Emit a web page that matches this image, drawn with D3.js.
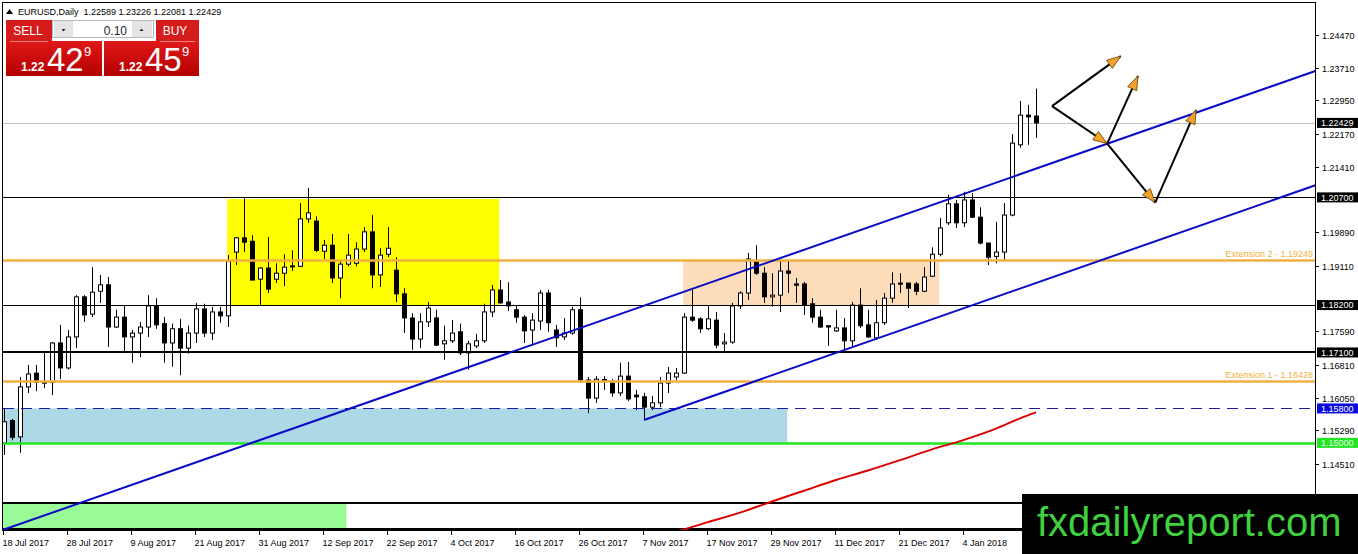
<!DOCTYPE html>
<html>
<head>
<meta charset="utf-8">
<script src="https://cdn.jsdelivr.net/npm/d3@7"></script>
<style>
body { margin: 0; background: #fff; overflow: hidden; }
svg { display: block; font-family: "Liberation Sans", Arial, sans-serif; }
</style>
</head>
<body>
<svg id="chart" width="1358" height="554"></svg>
<script>
// EURUSD daily candles, bar 0 = 18 Jul 2017
const opens = [1.1500,1.1552,1.1514,1.1630,1.1662,1.1639,1.1641,1.1732,1.1674,1.1746,
  1.1839,1.1799,1.1852,1.1867,1.1769,1.1792,1.1746,1.1755,1.1769,1.1818,
  1.1777,1.1732,1.1765,1.1720,1.1755,1.1811,1.1755,1.1804,1.1795,1.1943,
  1.1976,1.1968,1.1880,1.1906,1.1880,1.1894,1.1910,1.1910,1.2020,1.2015,
  1.1945,1.1959,1.1883,1.1915,1.1917,1.1950,1.1990,1.1890,1.1938,1.1901,
  1.1846,1.1790,1.1741,1.1781,1.1790,1.1730,1.1737,1.1758,1.1709,1.1725,
  1.1737,1.1804,1.1855,1.1827,1.1809,1.1792,1.1762,1.1783,1.1848,1.1762,
  1.1746,1.1755,1.1809,1.1646,1.1604,1.1647,1.1639,1.1616,1.1655,1.1611,
  1.1607,1.1583,1.1593,1.1639,1.1653,1.1662,1.1792,1.1788,1.1765,1.1785,
  1.1730,1.1734,1.1818,1.1848,1.1920,1.1894,1.1839,1.1843,1.1899,1.1869,
  1.1869,1.1823,1.1792,1.1772,1.1760,1.1767,1.1737,1.1820,1.1774,1.1744,
  1.1779,1.1836,1.1871,1.1871,1.1869,1.1852,1.1887,1.1938,1.2011,1.2055,
  1.2011,1.2064,1.2024,1.1964,1.1933,1.1943,1.2029,1.2192,1.2261,1.22589];
const highs = [1.1581,1.1556,1.1653,1.1681,1.1681,1.1709,1.1734,1.1774,1.1762,1.1843,
  1.1843,1.1908,1.1890,1.1885,1.1809,1.1820,1.1762,1.1781,1.1843,1.1836,
  1.1792,1.1777,1.1788,1.1772,1.1825,1.1823,1.1816,1.1816,1.1936,1.1978,
  1.2070,1.1982,1.1908,1.1978,1.1917,1.1938,1.1947,1.2057,1.2092,1.2026,
  1.1971,1.1985,1.1924,1.1985,1.1966,1.2001,1.2029,1.1952,1.2001,1.1931,
  1.1859,1.1801,1.1801,1.1827,1.1809,1.1772,1.1785,1.1777,1.1737,1.1753,
  1.1823,1.1867,1.1878,1.1873,1.1818,1.1797,1.1801,1.1855,1.1855,1.1774,
  1.1790,1.1816,1.1838,1.1653,1.1655,1.1655,1.1648,1.1686,1.1688,1.1623,
  1.1616,1.1609,1.1653,1.1676,1.1674,1.1801,1.1855,1.1792,1.1818,1.1804,
  1.1755,1.1825,1.1852,1.1941,1.1959,1.1908,1.1894,1.1924,1.1924,1.1883,
  1.1874,1.1836,1.1809,1.1774,1.1809,1.1790,1.1827,1.1859,1.1809,1.1832,
  1.1848,1.1896,1.1894,1.1871,1.1874,1.1908,1.1954,1.2022,1.2076,1.2064,
  1.2083,1.2080,1.2047,1.1964,1.2013,1.2057,1.2217,1.2294,1.2285,1.23226];
const lows = [1.1472,1.1506,1.1477,1.1616,1.1620,1.1627,1.1611,1.1648,1.1670,1.1720,
  1.1781,1.1792,1.1825,1.1723,1.1767,1.1709,1.1686,1.1699,1.1746,1.1765,
  1.1686,1.1677,1.1657,1.1707,1.1732,1.1746,1.1739,1.1779,1.1769,1.1913,
  1.1943,1.1878,1.1820,1.1848,1.1871,1.1864,1.1899,1.1908,1.2011,1.1943,
  1.1927,1.1871,1.1836,1.1910,1.1910,1.1943,1.1859,1.1862,1.1931,1.1827,
  1.1755,1.1716,1.1720,1.1769,1.1725,1.1693,1.1732,1.1704,1.1670,1.1720,
  1.1732,1.1792,1.1823,1.1806,1.1779,1.1732,1.1730,1.1762,1.1758,1.1723,
  1.1739,1.1751,1.1639,1.1569,1.1593,1.1623,1.1607,1.1609,1.1597,1.1576,
  1.1553,1.1576,1.1583,1.1616,1.1646,1.1660,1.1781,1.1755,1.1762,1.1720,
  1.1711,1.1730,1.1811,1.1832,1.1890,1.1825,1.1816,1.1804,1.1848,1.1825,
  1.1797,1.1779,1.1767,1.1725,1.1758,1.1716,1.1723,1.1767,1.1744,1.1739,
  1.1774,1.1825,1.1848,1.1813,1.1843,1.1850,1.1885,1.1933,1.2006,1.1999,
  1.2001,1.2022,1.1961,1.1913,1.1917,1.1924,1.2026,1.2185,1.2192,1.22081];
const closes = [1.1549,1.1513,1.1630,1.1660,1.1641,1.1641,1.1732,1.1674,1.1746,1.1839,
  1.1797,1.1850,1.1867,1.1769,1.1792,1.1746,1.1755,1.1769,1.1818,1.1774,
  1.1732,1.1765,1.1720,1.1755,1.1811,1.1755,1.1804,1.1795,1.1922,1.1976,
  1.1966,1.1878,1.1906,1.1857,1.1894,1.1908,1.1911,1.2020,1.2034,1.1947,
  1.1959,1.1883,1.1915,1.1936,1.1950,1.1990,1.1890,1.1936,1.1952,1.1846,
  1.1790,1.1741,1.1781,1.1813,1.1727,1.1737,1.1755,1.1709,1.1730,1.1737,
  1.1804,1.1855,1.1825,1.1818,1.1792,1.1760,1.1785,1.1848,1.1779,1.1744,
  1.1755,1.1809,1.1646,1.1604,1.1648,1.1645,1.1616,1.1655,1.1602,1.1607,
  1.1583,1.1593,1.1639,1.1662,1.1662,1.1792,1.1785,1.1765,1.1788,1.1727,
  1.1734,1.1818,1.1848,1.1927,1.1894,1.1839,1.1843,1.1899,1.1894,1.1866,
  1.1820,1.1792,1.1769,1.1769,1.1767,1.1737,1.1820,1.1772,1.1746,1.1779,
  1.1836,1.1869,1.1869,1.1859,1.1852,1.1885,1.1938,1.1999,1.2055,1.2011,
  1.2064,1.2024,1.1964,1.1931,1.1943,1.2029,1.2196,1.2261,1.2257,1.22429];

// time axis labels, one every 8 bars
const dateLabels = ["18 Jul 2017","28 Jul 2017","9 Aug 2017","21 Aug 2017","31 Aug 2017",
  "12 Sep 2017","22 Sep 2017","4 Oct 2017","16 Oct 2017","26 Oct 2017","7 Nov 2017",
  "17 Nov 2017","29 Nov 2017","11 Dec 2017","21 Dec 2017","4 Jan 2018"];
// visible price scale labels (the rest sit under price boxes / watermark)
const priceTicks = [1.24470,1.23710,1.22950,1.22170,1.21410,1.19890,1.19110,
  1.17590,1.16810,1.16050,1.15290,1.14510];

// horizontal levels
const thinLevels = [1.2070, 1.1820];
const thickLevels = [1.1710, 1.1360, 1.1300];
const dashedLevel = 1.1580;
const greenLevel = 1.1500;
const extLevels = [1.16428, 1.19249];
const extLabels = ["Extension 1 - 1.16428", "Extension 2 - 1.19249"];
const bidPrice = 1.22429;

// zones: [bar from, bar to, price top, price bottom]
const yellowZone = [27.9, 61.9, 1.2066, 1.1818];
const peachZone = [84.9, 116.9, 1.19249, 1.1820];
const blueZone = [-2, 97.9, 1.1580, 1.1500];
const greenZone = [-2, 42.8, 1.1360, 1.1300];

// channel: upper line two anchors, lower line parallel from bar 80 low
const upperA = [-0.125, 1.1298], upperB = [164, 1.2364];
const lowerStart = [80, 1.1553];

// moving average (red)
const maBars = [82, 84, 88, 92, 96, 100, 104, 108, 112, 116, 120, 124, 127, 129];
const maValues = [1.1284,1.1294,1.1316,1.1338,1.1364,1.1389,1.1414,1.1436,1.1460,1.1485,1.1507,1.1533,1.1557,1.1571];

// projected path arrows [from, to] in (bar, price)
const arrows = [
  [[131, 1.2282], [139.6, 1.2398]],
  [[131, 1.2282], [137.9, 1.2195]],
  [[137.9, 1.2195], [141.75, 1.2352]],
  [[137.9, 1.2195], [143.9, 1.2058]],
  [[143.9, 1.2058], [149, 1.2273]]
];

const headerText = "EURUSD,Daily  1.22589 1.23226 1.22081 1.22429";

// layout
const frame = { left: 3, right: 1315, top: 3, bottom: 530 };
const x = d3.scaleLinear().domain([0, 129]).range([4, 1036]);
const y = d3.scaleLinear().domain([1.2447, 1.1451]).range([35, 464]);

const svg = d3.select('#chart');
const defs = svg.append('defs');
defs.append('clipPath').attr('id', 'plot')
  .append('rect')
  .attr('x', frame.left).attr('y', frame.top)
  .attr('width', frame.right - frame.left).attr('height', frame.bottom - frame.top);

defs.append('marker')
  .attr('id', 'head')
  .attr('markerUnits', 'userSpaceOnUse')
  .attr('markerWidth', 18).attr('markerHeight', 14)
  .attr('refX', 15).attr('refY', 6)
  .attr('orient', 'auto')
  .append('path')
  .attr('d', 'M1,1 L15,6 L1,11 Z')
  .attr('fill', '#f5a22a')
  .attr('stroke', '#6a4a10')
  .attr('stroke-width', 0.8);

const grad = defs.append('linearGradient').attr('id', 'redGrad')
  .attr('x1', 0).attr('y1', 0).attr('x2', 0).attr('y2', 1);
grad.append('stop').attr('offset', 0).attr('stop-color', '#e01818');
grad.append('stop').attr('offset', 1).attr('stop-color', '#b40000');

svg.append('rect').attr('width', 1358).attr('height', 554).attr('fill', '#fff');

const plot = svg.append('g').attr('clip-path', 'url(#plot)');

// zones
function zone(z, color) {
  plot.append('rect')
    .attr('x', x(z[0])).attr('y', y(z[2]))
    .attr('width', x(z[1]) - x(z[0]))
    .attr('height', y(z[3]) - y(z[2]))
    .attr('fill', color);
}
zone(yellowZone, '#ffff00');
zone(peachZone, '#fddcb9');
zone(blueZone, '#add8e6');
zone(greenZone, '#98fb98');

function hline(p, color, w, dash) {
  const yy = Math.round(y(p)) + (w % 2 ? 0.5 : 0);
  const l = plot.append('line')
    .attr('x1', frame.left).attr('x2', frame.right)
    .attr('y1', yy).attr('y2', yy)
    .attr('stroke', color).attr('stroke-width', w);
  if (dash) l.attr('stroke-dasharray', dash);
}

hline(bidPrice, '#c0c0c0', 1);

// candles
const bars = d3.range(opens.length);
const candles = plot.append('g');
candles.selectAll('line.wick')
  .data(bars).enter().append('line')
  .attr('class', 'wick')
  .attr('x1', i => Math.round(x(i)) + 0.5).attr('x2', i => Math.round(x(i)) + 0.5)
  .attr('y1', i => y(highs[i])).attr('y2', i => y(lows[i]))
  .attr('stroke', '#000').attr('stroke-width', 1);
candles.selectAll('rect.body')
  .data(bars).enter().append('rect')
  .attr('class', 'body')
  .attr('x', i => Math.round(x(i)) - 1.5)
  .attr('width', 4)
  .attr('y', i => y(Math.max(opens[i], closes[i])))
  .attr('height', i => Math.max(1, Math.abs(y(opens[i]) - y(closes[i]))))
  .attr('fill', i => closes[i] >= opens[i] ? '#fff' : '#000')
  .attr('stroke', '#000').attr('stroke-width', 1);

// levels
thinLevels.forEach(p => hline(p, '#000', 1));
thickLevels.forEach(p => hline(p, '#000', 2));
hline(dashedLevel, '#1c1c9c', 1, '11,7');
hline(greenLevel, '#22e622', 2.5);
extLevels.forEach((p, k) => {
  hline(p, '#f0b040', 2.5);
  plot.append('text')
    .attr('x', frame.right - 2).attr('y', y(p) - 3)
    .attr('text-anchor', 'end')
    .attr('font-size', 9)
    .attr('fill', '#f0b040')
    .text(extLabels[k]);
});

// channel lines
const slope = (upperB[1] - upperA[1]) / (upperB[0] - upperA[0]);
const endBar = 170;
plot.append('line')
  .attr('x1', x(upperA[0])).attr('y1', y(upperA[1]))
  .attr('x2', x(endBar)).attr('y2', y(upperA[1] + slope * (endBar - upperA[0])))
  .attr('stroke', '#0a0ac8').attr('stroke-width', 2);
plot.append('line')
  .attr('x1', x(lowerStart[0])).attr('y1', y(lowerStart[1]))
  .attr('x2', x(endBar)).attr('y2', y(lowerStart[1] + slope * (endBar - lowerStart[0])))
  .attr('stroke', '#0a0ac8').attr('stroke-width', 2);

// moving average
plot.append('path')
  .datum(maBars)
  .attr('d', d3.line().x(b => x(b)).y((b, k) => y(maValues[k])).curve(d3.curveMonotoneX))
  .attr('fill', 'none').attr('stroke', '#dd0000').attr('stroke-width', 2);

// arrows
plot.selectAll('line.arrow')
  .data(arrows).enter().append('line')
  .attr('class', 'arrow')
  .attr('x1', a => x(a[0][0])).attr('y1', a => y(a[0][1]))
  .attr('x2', a => x(a[1][0])).attr('y2', a => y(a[1][1]))
  .attr('stroke', '#000').attr('stroke-width', 2)
  .attr('marker-end', 'url(#head)');

// frame
svg.append('rect')
  .attr('x', frame.left - 0.5).attr('y', frame.top - 0.5)
  .attr('width', frame.right - frame.left + 1).attr('height', frame.bottom - frame.top + 1)
  .attr('fill', 'none').attr('stroke', '#000').attr('stroke-width', 1);

// price axis
const pAxis = svg.append('g');
priceTicks.forEach(p => {
  const yy = Math.round(y(p)) + 0.5;
  pAxis.append('line').attr('x1', frame.right).attr('x2', frame.right + 4)
    .attr('y1', yy).attr('y2', yy).attr('stroke', '#000');
  pAxis.append('text').attr('x', 1322).attr('y', yy).attr('dy', '0.35em')
    .attr('font-size', 9).attr('fill', '#000').text(p.toFixed(5));
});

// time axis
const tAxis = svg.append('g');
dateLabels.forEach((d, k) => {
  const xx = Math.round(x(k * 8)) - 0.5;
  tAxis.append('line').attr('x1', xx).attr('x2', xx)
    .attr('y1', frame.bottom).attr('y2', frame.bottom + 5).attr('stroke', '#000');
  tAxis.append('text').attr('x', xx - 1).attr('y', 546)
    .attr('font-size', 9).attr('fill', '#000').text(d);
});

// price boxes on the axis
function priceBox(p, bg, fg) {
  const yy = y(p);
  svg.append('rect').attr('x', 1317).attr('y', yy - 5).attr('width', 41).attr('height', 10)
    .attr('fill', bg);
  svg.append('text').attr('x', 1321).attr('y', yy).attr('dy', '0.35em')
    .attr('font-size', 9).attr('fill', fg).text(p.toFixed(5));
}
priceBox(bidPrice, '#000', '#fff');
thinLevels.forEach(p => priceBox(p, '#000', '#fff'));
priceBox(thickLevels[0], '#000', '#fff');
priceBox(dashedLevel, '#0a0ae0', '#fff');
priceBox(greenLevel, '#22e622', '#eaffea');

// header
svg.append('path').attr('d', 'M6,14 L9.5,9 L13,14 Z').attr('fill', '#000');
svg.append('text').attr('x', 18).attr('y', 14.5)
  .attr('font-size', 9).attr('fill', '#000')
  .attr('xml:space', 'preserve').style('white-space', 'pre')
  .text(headerText);

// one-click trading panel
const panel = svg.append('g');
panel.append('rect').attr('x', 6).attr('y', 41).attr('width', 96).attr('height', 35).attr('fill', 'url(#redGrad)');
panel.append('rect').attr('x', 104).attr('y', 41).attr('width', 95).attr('height', 35).attr('fill', 'url(#redGrad)');
panel.append('rect').attr('x', 6).attr('y', 20).attr('width', 46).attr('height', 21).attr('fill', '#d41c1c');
panel.append('rect').attr('x', 156).attr('y', 20).attr('width', 43).attr('height', 21).attr('fill', '#d41c1c');
panel.append('line').attr('x1', 10).attr('x2', 48).attr('y1', 41.5).attr('y2', 41.5).attr('stroke', '#f08080');
panel.append('line').attr('x1', 160).attr('x2', 195).attr('y1', 41.5).attr('y2', 41.5).attr('stroke', '#f08080');
panel.append('rect').attr('x', 52.5).attr('y', 20.5).attr('width', 101).attr('height', 17)
  .attr('fill', '#fff').attr('stroke', '#b8b8b8');
panel.append('rect').attr('x', 54).attr('y', 21).attr('width', 19).attr('height', 16).attr('fill', '#e4e4e4');
panel.append('rect').attr('x', 132).attr('y', 21).attr('width', 20).attr('height', 16).attr('fill', '#e4e4e4');
panel.append('path').attr('d', 'M61.5,29 L65.5,29 L63.5,31.5 Z').attr('fill', '#222');
panel.append('path').attr('d', 'M139.5,31 L143.5,31 L141.5,28.5 Z').attr('fill', '#222');
panel.append('text').attr('x', 127).attr('y', 35).attr('text-anchor', 'end')
  .attr('font-size', 12).attr('fill', '#222').text('0.10');
panel.append('text').attr('x', 28).attr('y', 35).attr('text-anchor', 'middle')
  .attr('font-size', 12).attr('fill', '#fff').text('SELL');
panel.append('text').attr('x', 175).attr('y', 35).attr('text-anchor', 'middle')
  .attr('font-size', 12).attr('fill', '#fff').text('BUY');

function quote(x0, small, big, pip) {
  panel.append('text').attr('x', x0).attr('y', 71).attr('font-size', 12).attr('font-weight', 'bold')
    .attr('fill', '#fff').text(small);
  panel.append('text').attr('x', x0 + 26).attr('y', 71).attr('font-size', 33)
    .attr('fill', '#fff').text(big);
  panel.append('text').attr('x', x0 + 63).attr('y', 56).attr('font-size', 13)
    .attr('fill', '#fff').text(pip);
}
quote(21, '1.22', '42', '9');
quote(119, '1.22', '45', '9');

// watermark
svg.append('rect').attr('x', 1022).attr('y', 494).attr('width', 336).attr('height', 60).attr('fill', '#000');
svg.append('text').attr('x', 1037).attr('y', 536)
  .attr('font-size', 40).attr('fill', '#3fd23f')
  .text('fxdailyreport.com');
</script>
</body>
</html>
